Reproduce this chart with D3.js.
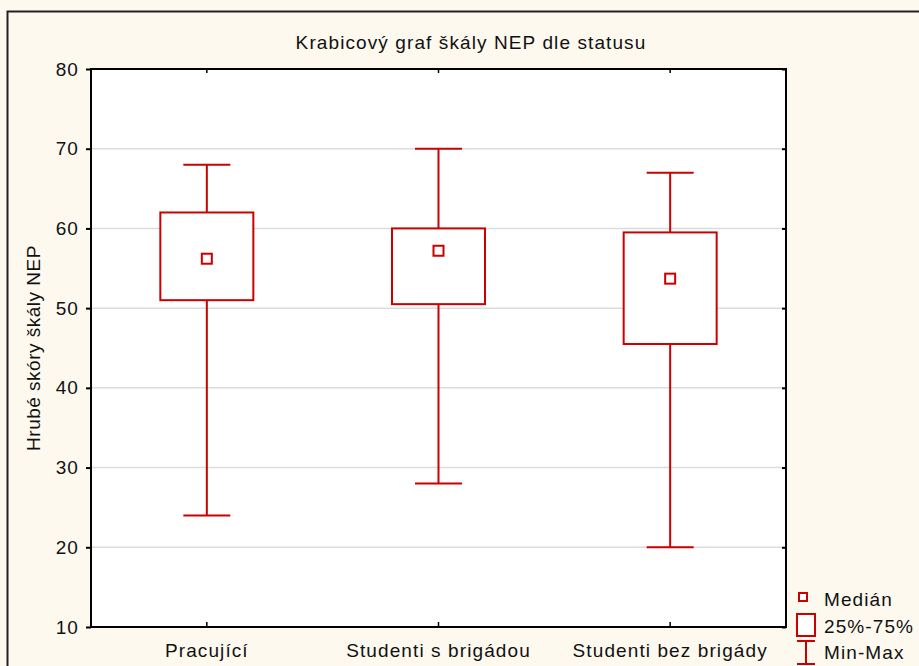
<!DOCTYPE html>
<html>
<head>
<meta charset="utf-8">
<script src="https://cdn.jsdelivr.net/npm/d3@7"></script>
<style>
  body { margin: 0; background: #fdf9ef; }
  text { font-family: "Liberation Sans", Arial, sans-serif; fill: #111; letter-spacing: 1.1px; }
</style>
</head>
<body>
<div id="chart"></div>
<script>
// data
const categories = ["Pracující", "Studenti s brigádou", "Studenti bez brigády"];
const minValues = [24, 28, 20];
const q1Values = [51, 50.5, 45.5];
const medianValues = [56.2, 57.2, 53.7];
const q3Values = [62, 60, 59.5];
const maxValues = [68, 70, 67];
const yTicks = [10, 20, 30, 40, 50, 60, 70, 80];
const legendLabels = ["Medián", "25%-75%", "Min-Max"];

const rows = categories.map((c, i) => ({
  cat: c, min: minValues[i], q1: q1Values[i], med: medianValues[i], q3: q3Values[i], max: maxValues[i]
}));

var W = 919, H = 666;
var margin = { top: 69, right: 133, bottom: 39, left: 91 },
  width = W - margin.left - margin.right,
  height = H - margin.top - margin.bottom;
var red = "#cc0000";
var fs = "19px";

var svg = d3.select("#chart").append("svg")
  .attr("width", W).attr("height", H);

svg.append("rect").attr("width", W).attr("height", H).attr("fill", "#fdf9ef");
// outer frame (runs off the right and bottom edges)
svg.append("rect")
  .attr("x", 7.5).attr("y", 11.5)
  .attr("width", W).attr("height", H)
  .attr("fill", "none").attr("stroke", "#222").attr("stroke-width", 2);

svg.append("text")
  .attr("x", 471).attr("y", 49)
  .attr("text-anchor", "middle")
  .style("font-size", fs)
  .text("Krabicový graf škály NEP dle statusu");

var g = svg.append("g")
  .attr("transform", "translate(" + margin.left + "," + margin.top + ")");

g.append("rect").attr("width", width).attr("height", height).attr("fill", "#fff");

var x = d3.scaleBand().domain(categories).range([0, width]);
var y = d3.scaleLinear().domain([10, 80]).range([height, 0]);

// gridlines
g.append("g").selectAll("line")
  .data(yTicks.filter(t => t > 10 && t < 80))
  .enter().append("line")
  .attr("x1", 0).attr("x2", width)
  .attr("y1", d => y(d)).attr("y2", d => y(d))
  .attr("stroke", "#dcdcdc").attr("stroke-width", 1.5);

// axes
var yAxis = g.append("g")
  .call(d3.axisLeft(y).tickValues(yTicks).tickSize(5).tickPadding(7));
yAxis.select(".domain").remove();
yAxis.selectAll("line").attr("stroke", "#000").attr("stroke-width", 2);
yAxis.selectAll("text").style("font-size", fs).attr("fill", "#111");

var yRight = g.append("g").attr("transform", "translate(" + width + ",0)")
  .call(d3.axisLeft(y).tickValues(yTicks).tickSize(4).tickFormat(""));
yRight.select(".domain").remove();
yRight.selectAll("line").attr("stroke", "#000").attr("stroke-width", 2);

var xAxis = g.append("g").attr("transform", "translate(0," + height + ")")
  .call(d3.axisTop(x).tickSize(5).tickFormat(""));
xAxis.select(".domain").remove();
xAxis.selectAll("line").attr("stroke", "#000").attr("stroke-width", 1.5);
g.append("g").attr("transform", "translate(0," + height + ")")
  .call(d3.axisBottom(x).tickSize(0).tickPadding(17))
  .call(a => a.select(".domain").remove())
  .selectAll("text").style("font-size", fs).attr("fill", "#111");

var xTop = g.append("g")
  .call(d3.axisBottom(x).tickSize(4).tickFormat(""));
xTop.select(".domain").remove();
xTop.selectAll("line").attr("stroke", "#000").attr("stroke-width", 1.5);

// boxes
var boxW = 93, capW = 47, medW = 10, sw = 2;
var boxes = g.append("g").selectAll("g").data(rows).enter().append("g")
  .attr("transform", d => "translate(" + (x(d.cat) + x.bandwidth() / 2) + ",0)");

boxes.append("line")
  .attr("x1", 0).attr("x2", 0)
  .attr("y1", d => y(d.max)).attr("y2", d => y(d.q3))
  .attr("stroke", red).attr("stroke-width", sw);
boxes.append("line")
  .attr("x1", 0).attr("x2", 0)
  .attr("y1", d => y(d.q1)).attr("y2", d => y(d.min))
  .attr("stroke", red).attr("stroke-width", sw);
boxes.append("line")
  .attr("x1", -capW / 2).attr("x2", capW / 2)
  .attr("y1", d => y(d.max)).attr("y2", d => y(d.max))
  .attr("stroke", red).attr("stroke-width", sw);
boxes.append("line")
  .attr("x1", -capW / 2).attr("x2", capW / 2)
  .attr("y1", d => y(d.min)).attr("y2", d => y(d.min))
  .attr("stroke", red).attr("stroke-width", sw);
boxes.append("rect")
  .attr("x", -boxW / 2).attr("width", boxW)
  .attr("y", d => y(d.q3)).attr("height", d => y(d.q1) - y(d.q3))
  .attr("fill", "#fff").attr("stroke", red).attr("stroke-width", sw);
boxes.append("rect")
  .attr("x", -medW / 2).attr("width", medW)
  .attr("y", d => y(d.med) - medW / 2).attr("height", medW)
  .attr("fill", "#fff").attr("stroke", red).attr("stroke-width", sw);

// plot frame
g.append("rect").attr("width", width).attr("height", height)
  .attr("fill", "none").attr("stroke", "#000").attr("stroke-width", 2);

// y axis title
svg.append("text")
  .attr("transform", "translate(40," + (margin.top + height / 2) + ") rotate(-90)")
  .attr("text-anchor", "middle")
  .style("font-size", fs)
  .style("letter-spacing", "0.5px")
  .text("Hrubé skóry škály NEP");

// legend
var lg = svg.append("g");
var ly = [597, 625, 652];
lg.append("rect").attr("x", 799).attr("y", ly[0] - 4).attr("width", 8).attr("height", 8)
  .attr("fill", "#fff").attr("stroke", red).attr("stroke-width", sw);
lg.append("rect").attr("x", 797).attr("y", ly[1] - 11).attr("width", 18).attr("height", 22)
  .attr("fill", "#fff").attr("stroke", red).attr("stroke-width", sw);
lg.append("line").attr("x1", 806).attr("x2", 806).attr("y1", ly[2] - 11).attr("y2", ly[2] + 12)
  .attr("stroke", red).attr("stroke-width", sw);
lg.append("line").attr("x1", 797).attr("x2", 815).attr("y1", ly[2] - 11).attr("y2", ly[2] - 11)
  .attr("stroke", red).attr("stroke-width", sw);
lg.append("line").attr("x1", 797).attr("x2", 815).attr("y1", ly[2] + 12).attr("y2", ly[2] + 12)
  .attr("stroke", red).attr("stroke-width", sw);
lg.selectAll("text").data(legendLabels).enter().append("text")
  .attr("x", 824).attr("y", (d, i) => [606, 633, 659][i])
  .style("font-size", fs)
  .text(d => d);
</script>
</body>
</html>
